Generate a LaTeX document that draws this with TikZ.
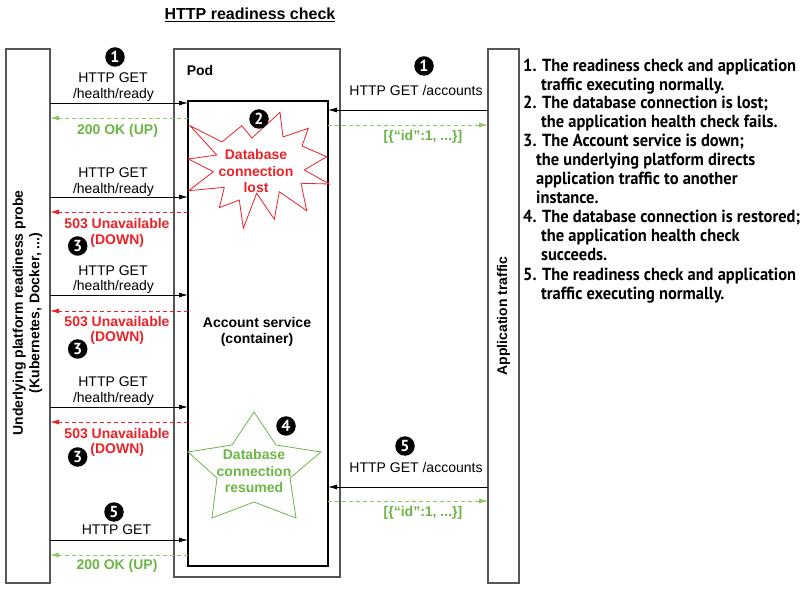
\documentclass[tikz,border=0pt]{standalone}
\usepackage{fontspec}
\setmainfont{Liberation Sans}
\newfontfamily\listfont[FakeStretch=0.94]{PT Sans}
\newfontfamily\numfont{PT Sans}
\usetikzlibrary{arrows.meta}
\definecolor{okgreen}{RGB}{108,182,70}
\definecolor{okline}{RGB}{140,200,100}
\definecolor{errred}{RGB}{236,34,40}
\definecolor{boxgray}{RGB}{85,85,85}
\tikzset{
  frame/.style={draw=boxgray, line width=1.1pt, inner sep=0pt, outer sep=0pt, anchor=north west},
  lbl/.style={inner sep=0pt, font=\fontsize{14}{16}\selectfont},
  blbl/.style={inner sep=0pt, align=center, font=\bfseries\fontsize{14}{16.5}\selectfont},
  oklbl/.style={blbl, text=okgreen},
  errlbl/.style={blbl, text=errred},
  num/.style={circle, fill=black, text=white, minimum size=19.5pt, inner sep=0pt, font=\numfont\bfseries\fontsize{16}{16}\selectfont},
  lst/.style={anchor=mid west, inner sep=0pt, font=\listfont\bfseries\fontsize{17.5}{18}\selectfont},
  req/.style={draw=black, line width=0.9pt, -{Latex[length=9pt,width=5pt]}},
  okresp/.style={draw=okline, line width=0.9pt, dash pattern=on 4pt off 3pt, -{Latex[length=9pt,width=5pt]}},
  errresp/.style={draw=errred, line width=0.9pt, dash pattern=on 4pt off 3pt, -{Latex[length=9pt,width=5pt]}},
}
\begin{document}
\begin{tikzpicture}[x=1pt,y=-1pt]
\useasboundingbox (0,0) rectangle (806,601);
\fill[white] (0,0) rectangle (806,601);

% title
\node[blbl, font=\bfseries\fontsize{16}{18}\selectfont] (title) at (250,15) {\underline{HTTP readiness check}};

% boxes
\node[frame, minimum width=44pt, minimum height=534pt] (probe) at (6,49) {};
\node[frame, minimum width=166pt, minimum height=528pt] (pod) at (174,49) {};
\node[frame, draw=black, minimum width=140pt, minimum height=465pt] (svc) at (188,101) {};
\node[frame, minimum width=31pt, minimum height=534pt] (app) at (488,49) {};

\node[blbl, rotate=90] (probelbl) at (27.5,313) {Underlying platform readiness probe\\(Kubernetes, Docker, ...)};
\node[blbl, rotate=90] (applbl) at (503.5,316) {Application traffic};
\node[blbl] (podlbl) at (200,71) {Pod};
\node[blbl] (svclbl) at (257,332) {Account service\\(container)};

% y levels
\coordinate (y1) at (0,103);
\coordinate (y2) at (0,118);
\coordinate (y3) at (0,197);
\coordinate (y4) at (0,212);
\coordinate (y5) at (0,295);
\coordinate (y6) at (0,311);
\coordinate (y7) at (0,407);
\coordinate (y8) at (0,422);
\coordinate (y9) at (0,540);
\coordinate (y10) at (0,555);
\coordinate (r1) at (0,110);
\coordinate (r2) at (0,125);
\coordinate (r3) at (0,487);
\coordinate (r4) at (0,501);

% left arrows
\draw[req] (probe.east |- y1) -- (svc.west |- y1);
\draw[okresp] (svc.west |- y2) -- (probe.east |- y2);
\draw[req] (probe.east |- y3) -- (svc.west |- y3);
\draw[errresp] (svc.west |- y4) -- (probe.east |- y4);
\draw[req] (probe.east |- y5) -- (svc.west |- y5);
\draw[errresp] (svc.west |- y6) -- (probe.east |- y6);
\draw[req] (probe.east |- y7) -- (svc.west |- y7);
\draw[errresp] (svc.west |- y8) -- (probe.east |- y8);
\draw[req] (probe.east |- y9) -- (svc.west |- y9);
\draw[okresp] (svc.west |- y10) -- (probe.east |- y10);

% right arrows
\draw[req] (app.west |- r1) -- (svc.east |- r1);
\draw[okresp] (svc.east |- r2) -- (app.west |- r2);
\draw[req] (app.west |- r3) -- (svc.east |- r3);
\draw[okresp] (svc.east |- r4) -- (app.west |- r4);

% left labels
\node[num] (n1a) at (115,57) {1};
\node[lbl] (g1a) at (113,78) {HTTP GET};
\node[lbl] (g1b) at (113.5,95) {/health/ready};
\node[oklbl] (ok1) at (117.5,131) {200 OK (UP)};

\node[lbl] (g2a) at (113,173) {HTTP GET};
\node[lbl] (g2b) at (113.5,190) {/health/ready};
\node[errlbl] (e1a) at (117,224) {503 Unavailable};
\node[errlbl] (e1b) at (117.3,241) {(DOWN)};
\node[num] (n3a) at (77.7,246) {3};

\node[lbl] (g3a) at (113,271) {HTTP GET};
\node[lbl] (g3b) at (113.5,287) {/health/ready};
\node[errlbl] (e2a) at (117,322) {503 Unavailable};
\node[errlbl] (e2b) at (117.3,338) {(DOWN)};
\node[num] (n3b) at (77.7,349) {3};

\node[lbl] (g4a) at (113,382) {HTTP GET};
\node[lbl] (g4b) at (113.5,399) {/health/ready};
\node[errlbl] (e3a) at (117,434) {503 Unavailable};
\node[errlbl] (e3b) at (117.3,450) {(DOWN)};
\node[num] (n3c) at (77.7,457) {3};

\node[num] (n5a) at (114,512) {5};
\node[lbl] (g5a) at (116.5,530) {HTTP GET};
\node[oklbl] (ok2) at (117,566) {200 OK (UP)};

% right labels
\node[num] (n1b) at (424,66) {1};
\node[lbl] (acc1) at (416,91) {HTTP GET /accounts};
\node[oklbl] (js1) at (423,137) {[\{“id”:1, ...\}]};
\node[num] (n5b) at (405,446) {5};
\node[lbl] (acc2) at (416,467) {HTTP GET /accounts};
\node[oklbl] (js2) at (423,513) {[\{“id”:1, ...\}]};

% starburst (connection lost)
\draw[errred, line width=0.8pt, fill=white, line join=miter]
  (190,125.7) -- (222,142) -- (241.7,125.7) -- (252,138) -- (280,112.3) -- (283,137)
  -- (308.3,128.3) -- (302,146) -- (326.7,156.7) -- (304.3,170) -- (329.3,184)
  -- (301,183.3) -- (306.7,210.7) -- (279.3,191.7) -- (274.3,219.3) -- (256.7,193.3)
  -- (243.3,228.3) -- (239.3,200) -- (219.3,207.7) -- (224.3,187.3) -- (188.7,190.7)
  -- (213.3,171.7) -- (188.3,159) -- (216.7,155) -- cycle;
\node[errlbl] (lost) at (256,171) {Database\\connection\\lost};
\node[num] (n2) at (259,119) {2};

% star (connection resumed)
\draw[okgreen, line width=0.8pt, fill=white]
  (254,412) -- (276,445) -- (321,452) -- (290,478) -- (296,518) -- (254,502)
  -- (212,518) -- (217,478) -- (188,452) -- (232,445) -- cycle;
\node[oklbl] (resumed) at (254,471) {Database\\connection\\resumed};
\node[num] (n4) at (286,426) {4};

% legend
\node[lst] (l1) at (523,69) {1. The readiness check and application};
\node[lst] (l2) at (541,88) {traffic executing normally.};
\node[lst] (l3) at (523,106) {2. The database connection is lost;};
\node[lst] (l4) at (541,125) {the application health check fails.};
\node[lst] (l5) at (523,144) {3. The Account service is down;};
\node[lst] (l6) at (536,163) {the underlying platform directs};
\node[lst] (l7) at (536,182) {application traffic to another};
\node[lst] (l8) at (536,201) {instance.};
\node[lst] (l9) at (523,220) {4. The database connection is restored;};
\node[lst] (l10) at (541,239) {the application health check};
\node[lst] (l11) at (541,258) {succeeds.};
\node[lst] (l12) at (523,278) {5. The readiness check and application};
\node[lst] (l13) at (541,297) {traffic executing normally.};
\end{tikzpicture}
\end{document}
